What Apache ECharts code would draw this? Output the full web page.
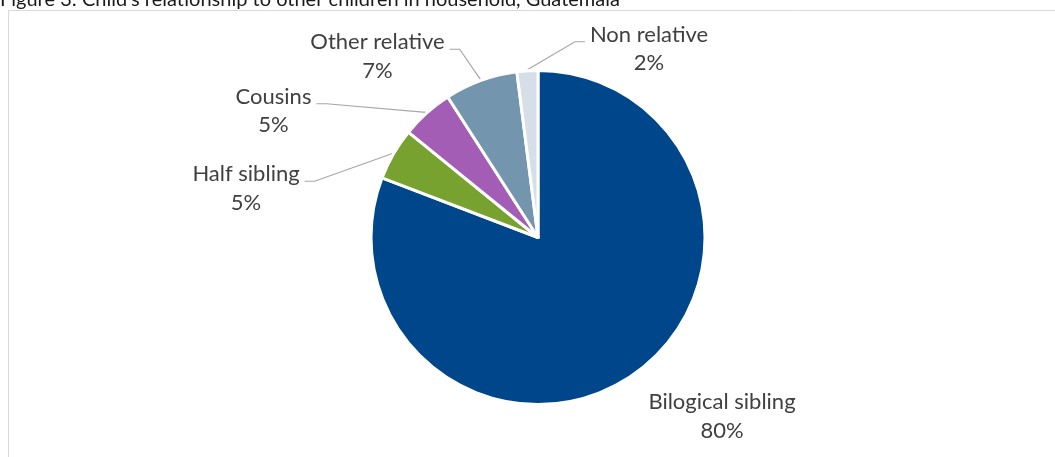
<!DOCTYPE html>
<html>
<head>
<meta charset="utf-8">
<title>Child's relationship to other children in household, Guatemala</title>
<script src="https://cdn.jsdelivr.net/npm/echarts@6/dist/echarts.min.js"></script>
<style>
  html, body { margin: 0; padding: 0; background: #ffffff; }
  #chart { width: 1055px; height: 457px; }
</style>
</head>
<body>
<div id="chart"></div>
<script>
// Relationship categories and their shares (%), clockwise from 12 o'clock
const categories = ['Bilogical sibling', 'Half sibling', 'Cousins', 'Other relative', 'Non relative'];
const shares = [80, 5, 5, 7, 2];
const sliceColors = ['#00468B', '#78A22F', '#A35DB4', '#7395AD', '#D6DFE7'];

// Pie geometry and label placement (px)
const PIE_CENTER = [538, 237.5];
const PIE_RADIUS = 167;
const LINE_H = 28.5;
const labelSpots = [[722, 416.5], [246, 188.5], [273.5, 111], [377.5, 56.5], [649, 49]];
const labelFont = 'Lato, "Open Sans", sans-serif';

// Mid-angle point of a slice just outside its rim, used as the leader-line anchor
const total = shares.reduce((a, b) => a + b, 0);
function rimPoint(index) {
  let before = 0;
  for (let i = 0; i < index; i++) before += shares[i];
  const mid = (before + shares[index] / 2) / total * Math.PI * 2; // clockwise from top
  const r = PIE_RADIUS + 1;
  return [PIE_CENTER[0] + r * Math.sin(mid), PIE_CENTER[1] - r * Math.cos(mid)];
}

const chart = echarts.init(document.getElementById('chart'), null, { renderer: 'canvas' });

chart.setOption({
  animation: false,
  backgroundColor: '#ffffff',
  title: {
    text: "Figure 3: Child's relationship to other children in household, Guatemala",
    left: 0,
    top: -10,
    padding: 0,
    textStyle: { fontFamily: labelFont, fontSize: 20, fontWeight: 'normal', color: '#1a1a1a' }
  },
  graphic: [{
    type: 'rect',
    z: -1,
    silent: true,
    shape: { x: 8.5, y: 10.5, width: 1200, height: 600 },
    style: { fill: 'none', stroke: '#D9D9D9', lineWidth: 1 }
  }],
  series: [{
    type: 'pie',
    center: PIE_CENTER,
    radius: PIE_RADIUS,
    startAngle: 90,
    clockwise: true,
    avoidLabelOverlap: false,
    itemStyle: { borderColor: '#ffffff', borderWidth: 3 },
    emphasis: { disabled: true },
    label: {
      show: true,
      position: 'outside',
      fontFamily: labelFont,
      fontSize: 22,
      lineHeight: LINE_H,
      color: '#404040',
      formatter: p => p.name + '\n' + p.value + '%'
    },
    labelLine: {
      show: true,
      lineStyle: { color: '#A6A6A6', width: 1.2 }
    },
    labelLayout: function (p) {
      const i = p.dataIndex;
      const [x, y] = labelSpots[i];
      const out = { x: x, y: y, align: 'center', verticalAlign: 'middle' };
      if (i === 0) return out;
      const w = p.labelRect.width;
      const lineY = y - LINE_H / 2 + 7;
      const rim = rimPoint(i);
      let end, elbow;
      if (rim[0] < x) {
        end = [x - w / 2 - 5, lineY];
        elbow = [end[0] - 10, lineY];
      } else {
        end = [x + w / 2 + 5, lineY];
        elbow = [end[0] + 10, lineY];
      }
      out.labelLinePoints = [rim, elbow, end];
      return out;
    },
    data: categories.map((name, i) => ({
      name: name,
      value: shares[i],
      itemStyle: { color: sliceColors[i] },
      labelLine: { show: i !== 0 }
    }))
  }]
});
</script>
</body>
</html>
